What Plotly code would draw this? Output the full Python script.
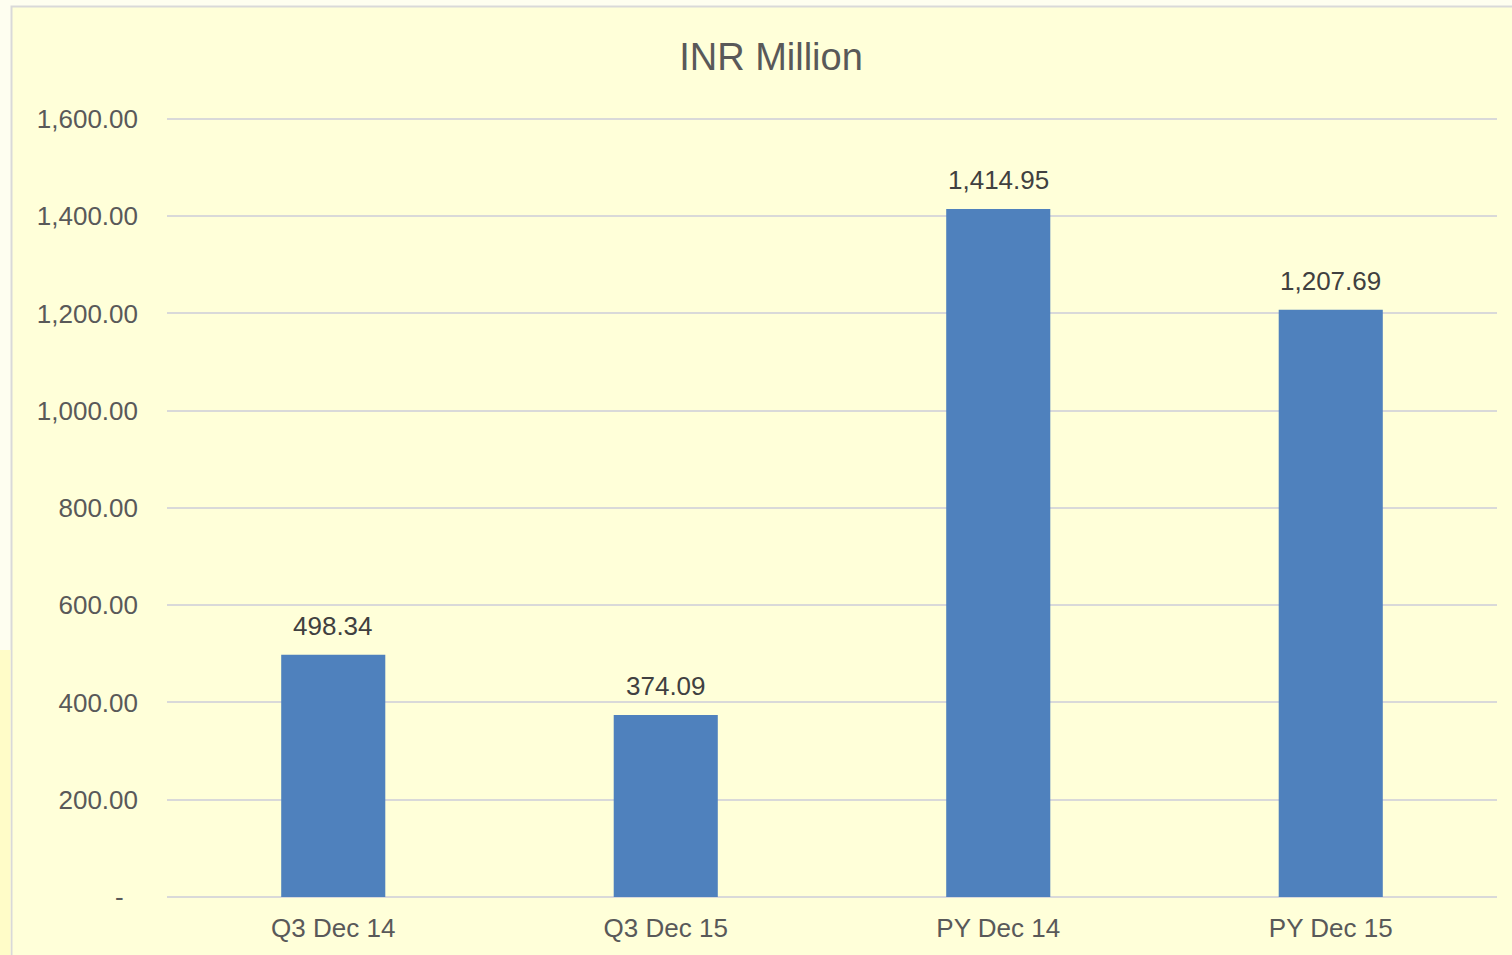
import plotly.graph_objects as go

categories = ["Q3 Dec 14", "Q3 Dec 15", "PY Dec 14", "PY Dec 15"]
values = [498.34, 374.09, 1414.95, 1207.69]
value_labels = ["498.34", "374.09", "1,414.95", "1,207.69"]
tick_vals = [0, 200, 400, 600, 800, 1000, 1200, 1400, 1600]
tick_text = ["-\u00a0\u00a0", "200.00", "400.00", "600.00", "800.00",
             "1,000.00", "1,200.00", "1,400.00", "1,600.00"]

W, H = 1512, 955
L, R, T, B = 167, 15, 117, 58
pw = W - L - R
ph = H - T - B

FONT = "Liberation Sans, Arial, sans-serif"
TXT = "#595959"

fig = go.Figure()
fig.add_trace(go.Bar(x=categories, y=values, marker=dict(color="#4F81BD", line=dict(width=0)),
                     hoverinfo="x+y"))

for c, v, t in zip(categories, values, value_labels):
    fig.add_annotation(x=c, y=v, text=t, showarrow=False, yanchor="bottom",
                       yshift=12, font=dict(family=FONT, size=26, color="#404040"))

def px2x(p):
    return (p - L) / pw

def py2y(p):
    return (H - B - p) / ph

fig.add_shape(type="rect", xref="paper", yref="paper", layer="below",
              x0=px2x(11.5), x1=px2x(1530), y0=py2y(970), y1=py2y(6.5),
              line=dict(color="#D9D9D9", width=2), fillcolor="#FFFFD9")
fig.add_shape(type="rect", xref="paper", yref="paper", layer="below",
              x0=px2x(-5), x1=px2x(10.5), y0=py2y(970), y1=py2y(650),
              line=dict(width=0), fillcolor="#FFFCC8")

fig.update_layout(
    width=W, height=H,
    margin=dict(l=L, r=R, t=T, b=B, pad=0, autoexpand=False),
    paper_bgcolor="#FEFEF0",
    plot_bgcolor="rgba(0,0,0,0)",
    bargap=0.687,
    showlegend=False,
    title=dict(text="INR Million", x=771 / W, xanchor="center", y=1 - 57 / H, yanchor="middle",
               font=dict(family=FONT, size=38, color=TXT)),
    font=dict(family=FONT, color=TXT),
)
fig.update_xaxes(showgrid=False, showline=False, zeroline=False, automargin=False,
                 ticks="outside", ticklen=8, tickcolor="rgba(0,0,0,0)",
                 tickfont=dict(family=FONT, size=26, color=TXT))
fig.update_yaxes(range=[0, 1604], tickvals=tick_vals, ticktext=tick_text, automargin=False,
                 showgrid=True, gridcolor="#D9D9D9", gridwidth=2,
                 zeroline=True, zerolinecolor="#D9D9D9", zerolinewidth=2,
                 showline=False, ticklabelstandoff=28,
                 tickfont=dict(family=FONT, size=26, color=TXT))

fig.write_html("out.html", config={"displayModeBar": False},
               post_script="document.body.style.margin='0';")
